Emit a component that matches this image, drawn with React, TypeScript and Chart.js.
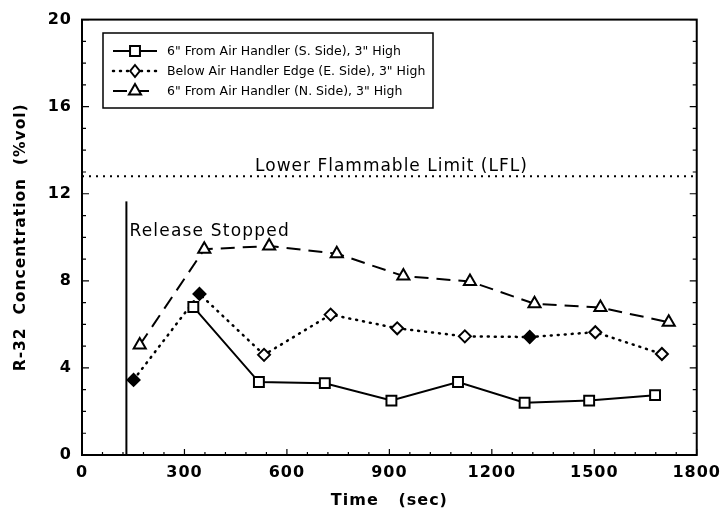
import React, { useEffect, useRef } from "react";
import { Chart, registerables } from "chart.js";

Chart.register(...registerables);

const seriesLabels = [
  "6\" From Air Handler (S. Side), 3\" High",
  "Below Air Handler Edge (E. Side), 3\" High",
  "6\" From Air Handler (N. Side), 3\" High",
];
const timeS = [326, 518, 711, 906, 1101, 1296, 1485, 1678];
const concS = [6.8, 3.35, 3.3, 2.5, 3.35, 2.4, 2.5, 2.75];
const timeE = [151, 344, 533, 728, 923, 1121, 1311, 1503, 1698];
const concE = [3.45, 7.4, 4.6, 6.45, 5.82, 5.45, 5.42, 5.64, 4.64];
const timeN = [169, 358, 548, 746, 941, 1136, 1325, 1518, 1718];
const concN = [5.05, 9.45, 9.6, 9.25, 8.22, 7.97, 6.95, 6.77, 6.1];

const lflValue = 12.8;
const lflLabel = "Lower Flammable Limit (LFL)";
const lflLabelX = 906;
const lflLabelY = 13.27;
const releaseTime = 130;
const releaseTop = 11.65;
const releaseLabel = "Release Stopped";
const releaseLabelY = 10.25;

const xTickValues = [0, 300, 600, 900, 1200, 1500, 1800];
const yTickValues = [0, 4, 8, 12, 16, 20];

const FONT = "'DejaVu Sans', sans-serif";

const toPts = (xs: number[], ys: number[]) => xs.map((x, i) => ({ x, y: ys[i] }));

function drawMarker(ctx: CanvasRenderingContext2D, style: string, r: number, x: number, y: number) {
  ctx.save();
  ctx.lineWidth = 2;
  ctx.strokeStyle = "#000";
  ctx.fillStyle = "#fff";
  ctx.beginPath();
  if (style === "rect") {
    const s = Math.SQRT1_2 * r;
    ctx.rect(x - s, y - s, 2 * s, 2 * s);
  } else if (style === "rectRot") {
    const s = r;
    ctx.moveTo(x, y - s);
    ctx.lineTo(x + s * 0.8, y);
    ctx.lineTo(x, y + s);
    ctx.lineTo(x - s * 0.8, y);
    ctx.closePath();
  } else {
    const h = r;
    ctx.moveTo(x, y - h);
    ctx.lineTo(x + h * 0.866, y + h * 0.5);
    ctx.lineTo(x - h * 0.866, y + h * 0.5);
    ctx.closePath();
  }
  ctx.fill();
  ctx.stroke();
  ctx.restore();
}

const decorPlugin = {
  id: "decor",
  beforeDraw(chart: any) {
    (chart.ctx as any).letterSpacing = "1px";
  },
  afterDatasetsDraw(chart: any) {
    const { ctx, chartArea: a, scales } = chart;
    const xs = scales.x;
    const ys = scales.y;
    ctx.save();
    ctx.strokeStyle = "#000";
    ctx.fillStyle = "#000";
    ctx.lineWidth = 2;
    ctx.strokeRect(a.left, a.top, a.right - a.left, a.bottom - a.top);
    ctx.lineWidth = 1.2;
    for (let v = 0; v <= 1800; v += 60) {
      const px = xs.getPixelForValue(v);
      const len = v % 300 === 0 ? 6 : 3;
      ctx.beginPath();
      ctx.moveTo(px, a.bottom);
      ctx.lineTo(px, a.bottom - len);
      ctx.stroke();
    }
    for (let v = 0; v <= 20; v += 1) {
      const py = ys.getPixelForValue(v);
      const len = v % 4 === 0 ? 7 : 4;
      ctx.beginPath();
      ctx.moveTo(a.left, py);
      ctx.lineTo(a.left + len, py);
      ctx.moveTo(a.right, py);
      ctx.lineTo(a.right - len, py);
      ctx.stroke();
    }
    const ly = ys.getPixelForValue(lflValue);
    ctx.lineWidth = 2;
    ctx.setLineDash([2, 5]);
    ctx.beginPath();
    ctx.moveTo(a.left, ly);
    ctx.lineTo(a.right, ly);
    ctx.stroke();
    ctx.setLineDash([]);
    ctx.font = "17px " + FONT;
    ctx.letterSpacing = "1px";
    ctx.textAlign = "center";
    ctx.textBaseline = "middle";
    ctx.fillText(lflLabel, xs.getPixelForValue(lflLabelX), ys.getPixelForValue(lflLabelY));
    const rx = xs.getPixelForValue(releaseTime);
    ctx.lineWidth = 2;
    ctx.beginPath();
    ctx.moveTo(rx, ys.getPixelForValue(0));
    ctx.lineTo(rx, ys.getPixelForValue(releaseTop));
    ctx.stroke();
    ctx.textAlign = "left";
    ctx.letterSpacing = "1.2px";
    ctx.fillText(releaseLabel, rx + 3, ys.getPixelForValue(releaseLabelY));
    const boxL = 103, boxT = 33, boxR = 433, boxB = 108;
    ctx.lineWidth = 1.5;
    ctx.strokeRect(boxL, boxT, boxR - boxL, boxB - boxT);
    const rows = [51, 71, 91];
    ctx.font = "12.5px " + FONT;
    ctx.letterSpacing = "0px";
    chart.data.datasets.forEach((ds: any, i: number) => {
      const y = rows[i];
      ctx.save();
      ctx.strokeStyle = "#000";
      ctx.lineWidth = ds.borderWidth;
      ctx.setLineDash(ds.borderDash || []);
      ctx.lineCap = ds.borderCapStyle || "butt";
      ctx.beginPath();
      ctx.moveTo(113, y);
      ctx.lineTo(157, y);
      ctx.stroke();
      ctx.restore();
      drawMarker(ctx, ds.pointStyle, ds.pointRadius, 135, y);
      ctx.fillStyle = "#000";
      ctx.textAlign = "left";
      ctx.textBaseline = "middle";
      ctx.fillText(ds.label, 167, y + 1);
    });
    ctx.restore();
  },
  afterDraw(chart: any) {
    (chart.ctx as any).letterSpacing = "0px";
  },
};

export default function App() {
  const ref = useRef<HTMLCanvasElement | null>(null);
  useEffect(() => {
    document.body.style.margin = "0";
    const canvas = ref.current;
    if (!canvas) return;
    const chart = new Chart(canvas, {
      type: "line",
      data: {
        datasets: [
          {
            label: seriesLabels[0],
            data: toPts(timeS, concS),
            borderColor: "#000",
            borderWidth: 2,
            pointStyle: "rect",
            pointRadius: 7,
            pointBorderWidth: 2,
            pointBackgroundColor: "#fff",
            pointBorderColor: "#000",
            tension: 0,
          },
          {
            label: seriesLabels[1],
            data: toPts(timeE, concE),
            borderColor: "#000",
            borderWidth: 2.5,
            borderDash: [1, 6],
            borderCapStyle: "round",
            pointStyle: "rectRot",
            pointRadius: 6,
            pointBorderWidth: 2,
            pointBackgroundColor: ["#000", "#000", "#fff", "#fff", "#fff", "#fff", "#000", "#fff", "#fff"],
            pointBorderColor: "#000",
            tension: 0,
          },
          {
            label: seriesLabels[2],
            data: toPts(timeN, concN),
            borderColor: "#000",
            borderWidth: 2,
            borderDash: [14, 8],
            pointStyle: "triangle",
            pointRadius: 7,
            pointBorderWidth: 2,
            pointBackgroundColor: "#fff",
            pointBorderColor: "#000",
            tension: 0,
          },
        ],
      },
      options: {
        animation: false,
        responsive: true,
        maintainAspectRatio: false,
        layout: { padding: { top: 15, right: 27, left: 0, bottom: 0 } },
        plugins: { legend: { display: false }, tooltip: { enabled: false } },
        scales: {
          x: {
            type: "linear",
            min: 0,
            max: 1800,
            afterBuildTicks: (s: any) => {
              s.ticks = xTickValues.map((v) => ({ value: v }));
            },
            afterFit: (s: any) => {
              s.height = 58;
            },
            ticks: {
              color: "#000",
              font: { family: FONT, size: 16, weight: "bold" },
              padding: 8,
              maxRotation: 0,
              callback: (v: any) => String(v),
            },
            grid: { display: false, drawTicks: false },
            border: { display: false },
            title: {
              display: true,
              text: "Time   (sec)",
              color: "#000",
              font: { family: FONT, size: 16, weight: "bold" },
              padding: { top: 0, bottom: 3 },
            },
          },
          y: {
            type: "linear",
            min: 0,
            max: 20,
            afterBuildTicks: (s: any) => {
              s.ticks = yTickValues.map((v) => ({ value: v }));
            },
            afterFit: (s: any) => {
              s.width = 82;
            },
            ticks: {
              color: "#000",
              font: { family: FONT, size: 16, weight: "bold" },
              padding: 10,
              callback: (v: any) => String(v),
            },
            grid: { display: false, drawTicks: false },
            border: { display: false },
            title: {
              display: true,
              text: "R-32  Concentration  (%vol)",
              color: "#000",
              font: { family: FONT, size: 15.5, weight: "bold" },
              padding: { top: 12, bottom: 0 },
            },
          },
        },
      },
      plugins: [decorPlugin],
    });
    return () => chart.destroy();
  }, []);
  return (
    <div style={{ width: 727, height: 513, position: "relative", background: "#fff" }}>
      <canvas ref={ref} />
    </div>
  );
}
